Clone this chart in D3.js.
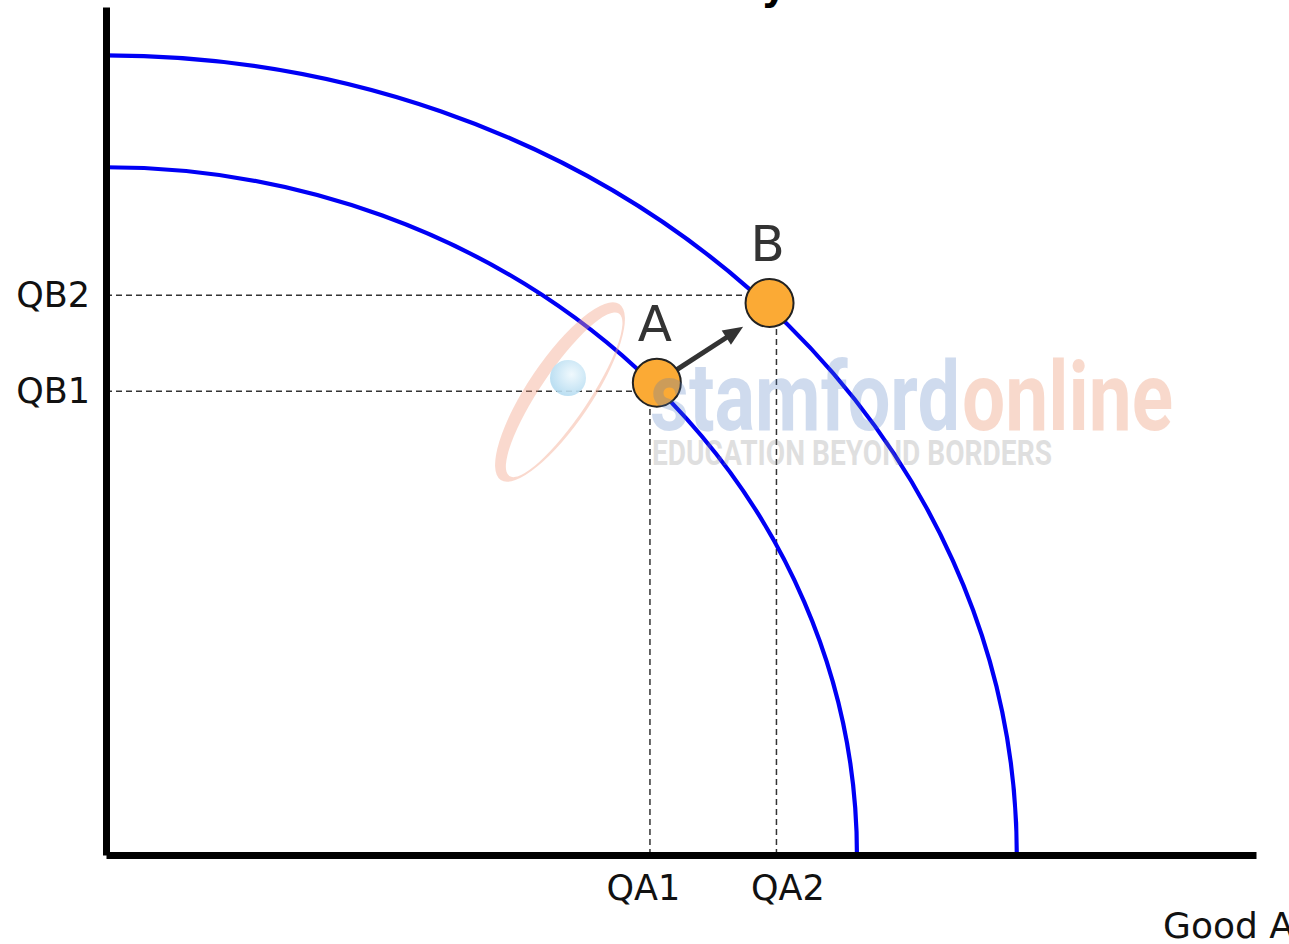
<!DOCTYPE html>
<html>
<head>
<meta charset="utf-8">
<script src="https://d3js.org/d3.v7.min.js"></script>
<style>
  html, body { margin: 0; padding: 0; background: #fff; overflow: hidden; }
  svg { display: block; }
</style>
</head>
<body>
<div id="chart"></div>
<script>
// PPC curves (intercepts on each axis, in chart units)
const curveNames = ['PPC1', 'PPC2'];
const curveMaxA = [65.3, 79.2];
const curveMaxB = [81.1, 94.3];

// points on the curves
const pointLabels = ['A', 'B'];
const pointGoodA = [47.9, 57.7];
const pointGoodB = [55.7, 65.1];

// guide ticks
const qaLabels = ['QA1', 'QA2'];
const qaValues = [47.3, 58.3];
const qbLabels = ['QB1', 'QB2'];
const qbValues = [54.7, 66.0];

// arrow from A towards B
const arrowTip = [55.4, 62.3];

const xTitle = 'Good A';
const chartTitle = 'Production Possibility';

const width = 1289;
const height = 944;
const margin = { top: 7, right: 33, bottom: 89, left: 106 };
const labelFont = '"DejaVu Sans", Verdana, sans-serif';

const x = d3.scaleLinear()
    .domain([0, 100])
    .range([margin.left, width - margin.right]);

const y = d3.scaleLinear()
    .domain([0, 100])
    .range([height - margin.bottom, margin.top]);

const svg = d3.select('#chart')
    .append('svg')
    .attr('width', width)
    .attr('height', height)
    .attr('viewBox', `0 0 ${width} ${height}`);

// title, mostly above the picture (only the descender shows)
svg.append('text')
    .attr('x', 787)
    .attr('y', -1)
    .attr('text-anchor', 'end')
    .style('font-family', labelFont)
    .style('font-weight', 'bold')
    .style('font-size', '40px')
    .attr('fill', '#000')
    .text(chartTitle);

// dashed guides
const guides = svg.append('g')
    .attr('stroke', '#333')
    .attr('stroke-width', 1.5)
    .attr('stroke-dasharray', '6,4')
    .attr('fill', 'none');

guides.selectAll('.hguide')
    .data(qbValues)
    .join('line')
    .attr('class', 'hguide')
    .attr('x1', x(0))
    .attr('x2', (d, i) => x(pointGoodA[i]))
    .attr('y1', (d) => y(d))
    .attr('y2', (d) => y(d));

guides.selectAll('.vguide')
    .data(qaValues)
    .join('line')
    .attr('class', 'vguide')
    .attr('x1', (d) => x(d))
    .attr('x2', (d) => x(d))
    .attr('y1', y(0))
    .attr('y2', (d, i) => y(pointGoodB[i]));

function ppcPath(maxA, maxB) {
    const rx = x(maxA) - x(0);
    const ry = y(0) - y(maxB);
    return `M${x(0)},${y(maxB)} A${rx},${ry} 0 0 1 ${x(maxA)},${y(0)}`;
}

const curves = svg.append('g')
    .attr('fill', 'none')
    .attr('stroke', '#0000f5')
    .attr('stroke-width', 4.2);

// inner curve sits under point A
curves.append('path')
    .attr('class', curveNames[0])
    .attr('d', ppcPath(curveMaxA[0], curveMaxB[0]));

// arrow A -> B
const r = 24;
const ax = x(pointGoodA[0]), ay = y(pointGoodB[0]);
const tx = x(arrowTip[0]), ty = y(arrowTip[1]);
const len = Math.hypot(tx - ax, ty - ay);
const ux = (tx - ax) / len, uy = (ty - ay) / len;
const headLen = 20, headHalf = 8.5;
const bx = tx - ux * headLen, by = ty - uy * headLen;

svg.append('line')
    .attr('x1', ax + ux * (r - 2))
    .attr('y1', ay + uy * (r - 2))
    .attr('x2', bx + ux * 2)
    .attr('y2', by + uy * 2)
    .attr('stroke', '#333')
    .attr('stroke-width', 5);

svg.append('path')
    .attr('d', `M${tx},${ty} L${bx - uy * headHalf},${by + ux * headHalf} L${bx + uy * headHalf},${by - ux * headHalf}Z`)
    .attr('fill', '#333');

// points
const pts = svg.append('g');
pts.selectAll('circle')
    .data(pointLabels)
    .join('circle')
    .attr('cx', (d, i) => x(pointGoodA[i]))
    .attr('cy', (d, i) => y(pointGoodB[i]))
    .attr('r', r)
    .attr('fill', '#fbaa35')
    .attr('stroke', '#222')
    .attr('stroke-width', 2);

pts.selectAll('text')
    .data(pointLabels)
    .join('text')
    .attr('x', (d, i) => x(pointGoodA[i]) - 2)
    .attr('y', (d, i) => y(pointGoodB[i]) - 42)
    .attr('text-anchor', 'middle')
    .style('font-family', labelFont)
    .style('font-size', '50px')
    .attr('fill', '#333')
    .text((d) => d);

// outer curve passes over point B
curves.append('path')
    .attr('class', curveNames[1])
    .attr('d', ppcPath(curveMaxA[1], curveMaxB[1]));

// axes
const xAxis = svg.append('g')
    .attr('transform', `translate(0, ${y(0)})`)
    .call(d3.axisBottom(x)
        .tickValues(qaValues)
        .tickFormat((d, i) => qaLabels[i])
        .tickSize(0)
        .tickSizeOuter(0)
        .tickPadding(20));

// labels sit a little off their guide lines in the original
xAxis.selectAll('.tick text')
    .attr('dx', (d, i) => (i === 0 ? -7 : 11));

const yAxis = svg.append('g')
    .attr('transform', `translate(${x(0)}, 0)`)
    .call(d3.axisLeft(y)
        .tickValues(qbValues)
        .tickFormat((d, i) => qbLabels[i])
        .tickSize(0)
        .tickSizeOuter(0)
        .tickPadding(16));

[xAxis, yAxis].forEach((g) => {
    g.select('.domain')
        .attr('stroke', '#000')
        .attr('stroke-width', 7);
    g.selectAll('text')
        .style('font-family', labelFont)
        .style('font-size', '35px')
        .attr('fill', '#111');
});

svg.append('text')
    .attr('x', x(100) - 93)
    .attr('y', 938)
    .style('font-family', labelFont)
    .style('font-size', '36px')
    .attr('fill', '#111')
    .text(xTitle);

// faint watermark over everything
const wm = svg.append('g').attr('pointer-events', 'none');

wm.append('path')
    .attr('transform', 'translate(560,392) rotate(-56)')
    .attr('d', 'M-106,0 A106,32 0 1,0 106,0 A106,32 0 1,0 -106,0 Z M-98,5 A98,24 0 1,0 98,5 A98,24 0 1,0 -98,5 Z')
    .attr('fill-rule', 'evenodd')
    .attr('fill', '#f2a184')
    .attr('opacity', 0.4);

const grad = svg.append('defs').append('radialGradient')
    .attr('id', 'ball')
    .attr('cx', '60%').attr('cy', '40%').attr('r', '60%');
grad.append('stop').attr('offset', '0%').attr('stop-color', '#eef8fd');
grad.append('stop').attr('offset', '100%').attr('stop-color', '#b5dcf1');

wm.append('circle')
    .attr('cx', 568)
    .attr('cy', 378)
    .attr('r', 18)
    .attr('fill', 'url(#ball)')
    .attr('opacity', 0.9);

const wmFont = 'Roboto, "Liberation Sans", sans-serif';

wm.append('text')
    .attr('x', 650)
    .attr('y', 430)
    .attr('textLength', 310)
    .attr('lengthAdjust', 'spacingAndGlyphs')
    .style('font-family', wmFont)
    .style('font-weight', 'bold')
    .style('font-size', '96px')
    .attr('fill', '#4a78c0')
    .attr('opacity', 0.26)
    .text('stamford');

wm.append('text')
    .attr('x', 962)
    .attr('y', 430)
    .attr('textLength', 211)
    .attr('lengthAdjust', 'spacingAndGlyphs')
    .style('font-family', wmFont)
    .style('font-weight', 'bold')
    .style('font-size', '96px')
    .attr('fill', '#e8703f')
    .attr('opacity', 0.26)
    .text('online');

wm.append('text')
    .attr('x', 652)
    .attr('y', 465)
    .attr('textLength', 400)
    .attr('lengthAdjust', 'spacingAndGlyphs')
    .style('font-family', wmFont)
    .style('font-weight', 'bold')
    .style('font-size', '35px')
    .attr('fill', '#888')
    .attr('opacity', 0.26)
    .text('EDUCATION BEYOND BORDERS');
</script>
</body>
</html>
